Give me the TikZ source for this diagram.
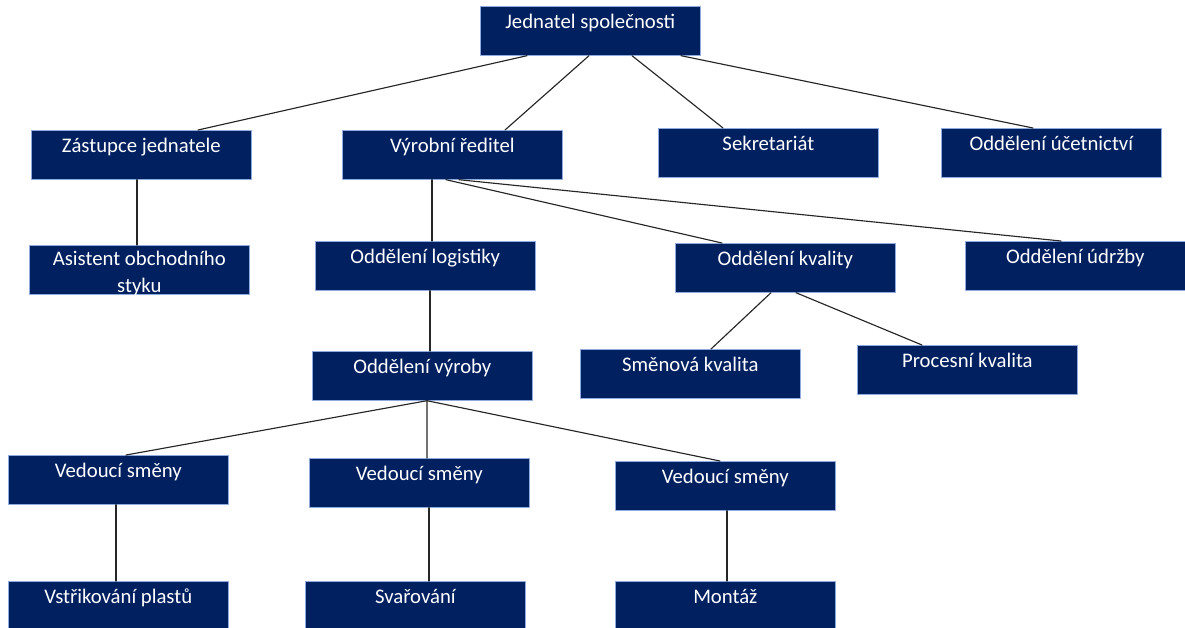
\documentclass[tikz,border=0pt]{standalone}
\usepackage{fontspec}
\setmainfont{Carlito}
\usetikzlibrary{calc}
\definecolor{navy}{RGB}{0,32,96}
\definecolor{rim}{RGB}{143,170,220}
\begin{document}
\begin{tikzpicture}[x=0.02cm, y=-0.02cm, line join=round, line cap=round,
box/.style={draw=rim, line width=0.4pt, fill=navy, text=white, anchor=north west,
  minimum width=4.4cm, minimum height=0.98cm, inner xsep=2pt, inner ysep=0pt,
  text height=12.3pt, text depth=15.5pt, font=\fontsize{11.8}{15.3}\selectfont},
link/.style={line width=0.65pt, black!85}]
\useasboundingbox (0,0) rectangle (1185,627);
% top level
\node[box] (jed) at (480,6) {Jednatel společnosti};
\node[box] (zast) at (31,130) {Zástupce jednatele};
\node[box] (vyr) at (342,130) {Výrobní ředitel};
\node[box] (sek) at (658,128) {Sekretariát};
\node[box] (uce) at (941,128) {Oddělení účetnictví};
% second level
\node[box, align=center, text height=26.8pt, text depth=1pt] (asist) at (29,245) {Asistent obchodního\\styku};
\node[box] (log) at (315,241) {Oddělení logistiky};
\node[box] (kval) at (675,243) {Oddělení kvality};
\node[box] (udr) at (965,241) {Oddělení údržby};
\node[box] (vyroba) at (312,351) {Oddělení výroby};
\node[box] (smen) at (580,349) {Směnová kvalita};
\node[box] (proc) at (857,345) {Procesní kvalita};
% shifts
\node[box] (ved1) at (8,455) {Vedoucí směny};
\node[box] (ved2) at (309,458) {Vedoucí směny};
\node[box] (ved3) at (615,461) {Vedoucí směny};
\node[box] (vstr) at (8,581) {Vstřikování plastů};
\node[box] (svar) at (305,581) {Svařování};
\node[box] (mont) at (615,581) {Montáž};
% links
\draw[link] ($(jed.south west)+(47,0)$)--($(zast.north west)+(167,0)$);
\draw[link] ($(jed.south west)+(109,0)$)--($(vyr.north west)+(163,0)$);
\draw[link] ($(jed.south west)+(152,0)$)--($(sek.north west)+(65,0)$);
\draw[link] ($(jed.south west)+(201,0)$)--($(uce.north west)+(92,0)$);
\draw[link] ($(zast.south west)+(106,0)$) coordinate (z1)--(z1 |- asist.north);
\draw[link] ($(vyr.south west)+(90,0)$) coordinate (v1)--(v1 |- log.north);
\draw[link] ($(vyr.south west)+(104,0)$)--($(kval.north west)+(47,0)$);
\draw[link] ($(vyr.south west)+(117,0)$)--($(udr.north west)+(96,0)$);
\draw[link] ($(log.south west)+(115,0)$) coordinate (l1)--(l1 |- vyroba.north);
\draw[link] ($(kval.south west)+(96,0)$)--($(smen.north west)+(131,0)$);
\draw[link] ($(kval.south west)+(121,0)$)--($(proc.north west)+(65,0)$);
\draw[link] ($(vyroba.south west)+(115,0)$) coordinate (p1)--($(ved1.north west)+(118,0)$)
  (p1)--(p1 |- ved2.north)
  (p1)--($(ved3.north west)+(105,0)$);
\draw[link] ($(ved1.south west)+(108,0)$) coordinate (s1)--(s1 |- vstr.north);
\draw[link] ($(ved2.south west)+(120,0)$) coordinate (s2)--(s2 |- svar.north);
\draw[link] ($(ved3.south west)+(112,0)$) coordinate (s3)--(s3 |- mont.north);
\end{tikzpicture}
\end{document}
